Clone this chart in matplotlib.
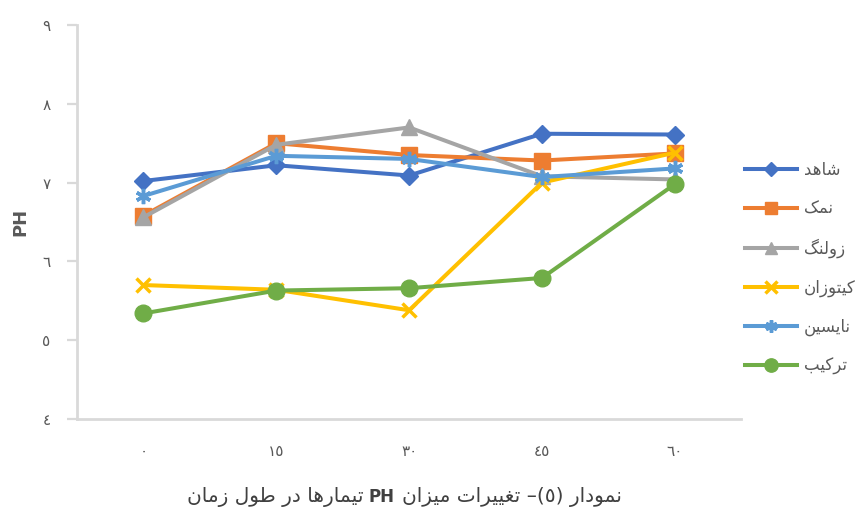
import matplotlib
matplotlib.use('Agg')
import matplotlib.pyplot as plt

# ---- data ----
times = ['٠', '١٥', '٣٠', '٤٥', '٦٠']
y_ticks = [4, 5, 6, 7, 8, 9]
y_tick_labels = ['٤', '٥', '٦', '٧', '٨', '٩']

names = ['شاهد', 'نمک', 'زولنگ', 'کیتوزان', 'نایسین', 'ترکیب']
shahed = [7.02, 7.22, 7.09, 7.62, 7.61]
namak = [6.58, 7.50, 7.35, 7.28, 7.37]
zoleng = [6.56, 7.48, 7.70, 7.08, 7.04]
kitozan = [5.70, 5.64, 5.38, 7.00, 7.38]
naysin = [6.83, 7.34, 7.30, 7.07, 7.18]
tarkib = [5.34, 5.63, 5.66, 5.79, 6.98]

series = [shahed, namak, zoleng, kitozan, naysin, tarkib]
colors = ['#4472C4', '#ED7D31', '#A5A5A5', '#FFC000', '#5B9BD5', '#70AD47']
markers = ['D', 's', '^', 'x', (6, 2, 0), 'o']
msizes = [9.5, 11, 11, 10, 11, 12]

# ---- very small arabic/persian shaper (matplotlib does no shaping) ----
# letter: (isolated, final, initial, medial) ; None for right-joining only
forms = {
    'ا': (0xFE8D, 0xFE8E, None, None),
    'ب': (0xFE8F, 0xFE90, 0xFE91, 0xFE92),
    'ت': (0xFE95, 0xFE96, 0xFE97, 0xFE98),
    'د': (0xFEA9, 0xFEAA, None, None),
    'ر': (0xFEAD, 0xFEAE, None, None),
    'ز': (0xFEAF, 0xFEB0, None, None),
    'س': (0xFEB1, 0xFEB2, 0xFEB3, 0xFEB4),
    'ش': (0xFEB5, 0xFEB6, 0xFEB7, 0xFEB8),
    'ط': (0xFEC1, 0xFEC2, 0xFEC3, 0xFEC4),
    'غ': (0xFECD, 0xFECE, 0xFECF, 0xFED0),
    'ل': (0xFEDD, 0xFEDE, 0xFEDF, 0xFEE0),
    'م': (0xFEE1, 0xFEE2, 0xFEE3, 0xFEE4),
    'ن': (0xFEE5, 0xFEE6, 0xFEE7, 0xFEE8),
    'ه': (0xFEE9, 0xFEEA, 0xFEEB, 0xFEEC),
    'و': (0xFEED, 0xFEEE, None, None),
    'ک': (0xFB8E, 0xFB8F, 0xFB90, 0xFB91),
    'گ': (0xFB92, 0xFB93, 0xFB94, 0xFB95),
    'ی': (0xFBFC, 0xFBFD, 0xFBFE, 0xFBFF),
}


def shape(word):
    out = []
    for i, ch in enumerate(word):
        if ch not in forms:
            out.append(ch)
            continue
        prev = word[i - 1] if i > 0 else None
        nxt = word[i + 1] if i < len(word) - 1 else None
        join_prev = prev in forms and forms[prev][2] is not None
        join_next = forms[ch][2] is not None and nxt in forms
        iso, fin, ini, med = forms[ch]
        if join_prev and join_next:
            code = med
        elif join_prev:
            code = fin
        elif join_next:
            code = ini
        else:
            code = iso
        out.append(chr(code))
    return ''.join(reversed(out))


def shape_line(text):
    # right-to-left run: words go in reverse visual order
    return ' '.join(shape(w) for w in reversed(text.split(' ')))


plt.rcParams['font.family'] = ['DejaVu Sans']
gray = '#595959'
axis_gray = '#D9D9D9'

fig = plt.figure(figsize=(8.65, 5.13), dpi=100)
ax = fig.add_axes([0.089, 0.1832, 0.768, 0.7681])

x = list(range(len(times)))
for vals, name, c, m, ms in zip(series, names, colors, markers, msizes):
    mew = 2.5 if m == 'x' or isinstance(m, tuple) else 1
    ax.plot(x, vals, color=c, lw=2.9, marker=m, markersize=ms,
            markeredgewidth=mew, markeredgecolor=c, label=shape(name))

ax.set_xlim(-0.5, len(times) - 0.5)
ax.set_ylim(4, 9)
ax.set_xticks(x)
ax.set_xticklabels(times, fontsize=11, color=gray)
ax.set_yticks(y_ticks)
ax.set_yticklabels(y_tick_labels, fontsize=11, color=gray)
ax.tick_params(axis='x', length=0, pad=18)
ax.tick_params(axis='y', length=7, width=1.6, color=axis_gray, pad=12)

for s in ['top', 'right']:
    ax.spines[s].set_visible(False)
for s in ['left', 'bottom']:
    ax.spines[s].set_color(axis_gray)
    ax.spines[s].set_linewidth(2)

ax.set_ylabel('PH', fontsize=13, fontweight='bold', color=gray, labelpad=9)

leg = fig.legend(loc='center left', bbox_to_anchor=(745 / 865, 1 - 268 / 513),
                 bbox_transform=fig.transFigure, frameon=False,
                 fontsize=12, labelspacing=1.25, handlelength=3.1,
                 handletextpad=0.45, markerscale=0.8, borderpad=0,
                 borderaxespad=0)
for t in leg.get_texts():
    t.set_color(gray)

# caption: "نمودار (٥)- تغییرات میزان PH تیمارها در طول زمان" laid out right-to-left
left_part = shape_line('تیمارها در طول زمان')
right_part = shape_line('تغییرات میزان') + ' –(٥) ' + shape('نمودار')
cy = 1 - 497 / 513
fig.text(364 / 865, cy, left_part, ha='right', va='center',
         fontsize=14.5, color='#404040')
fig.text(382 / 865, cy, 'PH', ha='center', va='center',
         fontsize=12, fontweight='bold', color='#404040')
fig.text(402 / 865, cy, right_part, ha='left', va='center',
         fontsize=14.5, color='#404040')

fig.savefig('out.png', dpi=100)
